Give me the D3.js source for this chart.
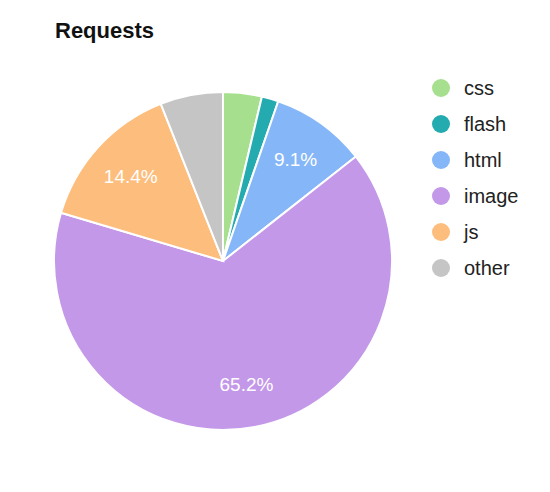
<!DOCTYPE html>
<html>
<head>
<meta charset="utf-8">
<script src="https://cdn.jsdelivr.net/npm/d3@7"></script>
<style>
  body { margin: 0; background: #fff; }
  text { font-family: "Liberation Sans", Arial, sans-serif; }
</style>
</head>
<body>
<div id="view"></div>
<script>
var width = 550, height = 492;

// request share per type, percent
var categories = ["css", "flash", "html", "image", "js", "other"];
var values = [3.7, 1.6, 9.1, 65.2, 14.4, 6.0];
var colors = ["#a6e08e", "#24abb0", "#85b6f7", "#c398e8", "#fdbd7c", "#c5c5c5"];

var svg = d3.select("#view").append("svg")
  .attr("width", width)
  .attr("height", height);

svg.append("text")
  .attr("x", 55)
  .attr("y", 38)
  .style("font-weight", "bold")
  .style("font-size", "22px")
  .style("fill", "#111")
  .text("Requests");

var cx = 223, cy = 261, r = 169;

var pie = d3.pie().sort(null).value(function(d) { return d; });
var arcs = pie(values);
var arc = d3.arc().innerRadius(0).outerRadius(r);
var labelArc = d3.arc().innerRadius(r * 0.74).outerRadius(r * 0.74);

var g = svg.append("g").attr("transform", "translate(" + cx + "," + cy + ")");

g.selectAll(".slice")
  .data(arcs).enter()
  .append("path")
  .attr("class", "slice")
  .attr("d", arc)
  .style("fill", function(d, i) { return colors[i]; })
  .style("stroke", "#fff")
  .style("stroke-width", 2);

// only the bigger slices get a label
g.selectAll(".lbl")
  .data(arcs.filter(function(d) { return d.data >= 9; })).enter()
  .append("text")
  .attr("class", "lbl")
  .attr("transform", function(d) { return "translate(" + labelArc.centroid(d) + ")"; })
  .attr("text-anchor", "middle")
  .attr("dy", "0.35em")
  .style("font-size", "19px")
  .style("fill", "#fff")
  .text(function(d) { return d.data.toFixed(1) + "%"; });

var legend = svg.selectAll(".legend")
  .data(categories).enter()
  .append("g")
  .attr("class", "legend")
  .attr("transform", function(d, i) { return "translate(441," + (88 + i * 36) + ")"; });

legend.append("circle")
  .attr("r", 9)
  .style("fill", function(d, i) { return colors[i]; });

legend.append("text")
  .attr("x", 23)
  .attr("dy", "0.35em")
  .style("font-size", "20px")
  .style("fill", "#222")
  .text(function(d) { return d; });
</script>
</body>
</html>
